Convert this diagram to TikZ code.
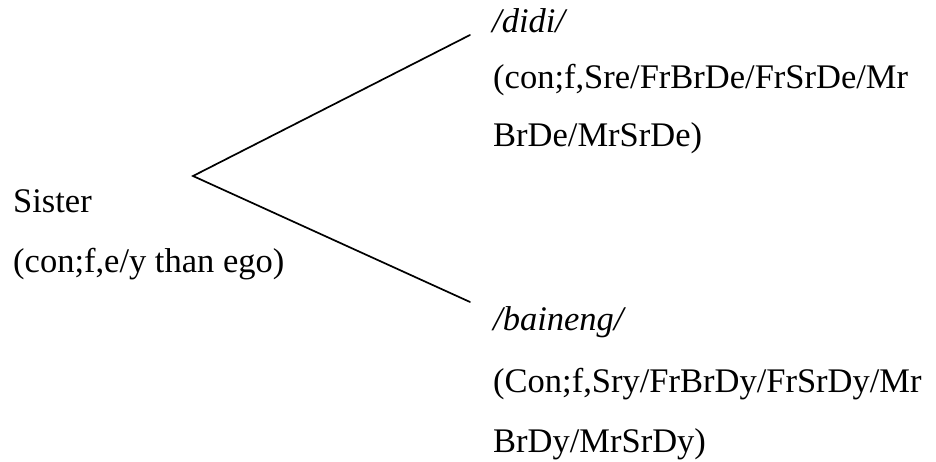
\documentclass[tikz,border=0pt]{standalone}
\usepackage{fontspec}
\setmainfont{Liberation Serif}
\begin{document}
\begin{tikzpicture}[x=1pt,y=1pt,
  lbl/.style={anchor=base west,inner sep=0pt,font=\fontsize{34.5}{40}\selectfont},
  branch/.style={line width=1.7pt,line cap=round,line join=miter}]
\useasboundingbox (0,0) rectangle (936,461);
% root term
\node[lbl] (sister) at (13,248) {Sister};
\node[lbl] (sisterdef) at (13,189) {(con;f,e/y than ego)};
% elder sister
\node[lbl] (didi) at (492,428) {\itshape /didi/};
\node[lbl] (dididef1) at (493,372) {(con;f,Sre/FrBrDe/FrSrDe/Mr};
\node[lbl] (dididef2) at (493,314) {BrDe/MrSrDe)};
% younger sister
\node[lbl] (baineng) at (493,131) {\itshape /baineng/};
\node[lbl] (bainengdef1) at (493,69) {(Con;f,Sry/FrBrDy/FrSrDy/Mr};
\node[lbl] (bainengdef2) at (493,9) {BrDy/MrSrDy)};
% branching lines
\coordinate (fork) at (193,285);
\coordinate (upend) at (470,426);
\coordinate (downend) at (470,159);
\draw[branch] (upend) -- (fork) -- (downend);
\end{tikzpicture}
\end{document}
